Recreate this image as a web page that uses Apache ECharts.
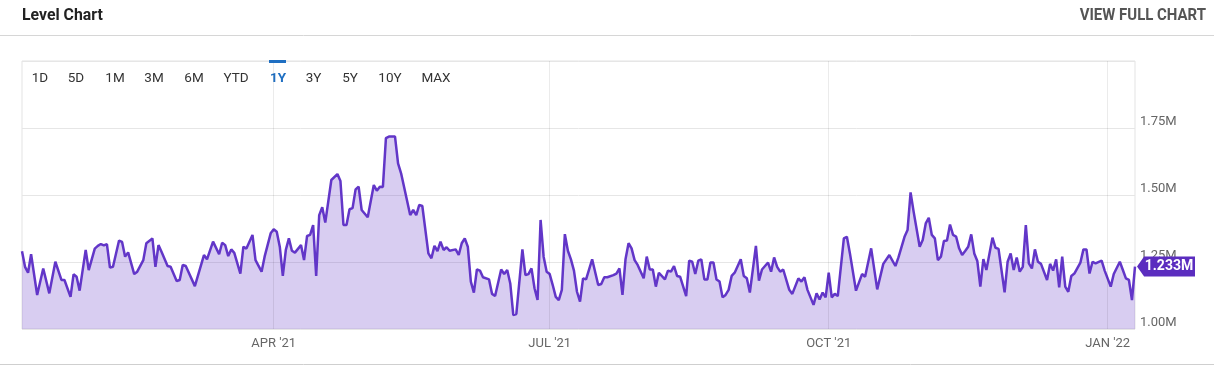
<!DOCTYPE html>
<html>
<head>
<meta charset="utf-8">
<script src="https://cdn.jsdelivr.net/npm/echarts@6/dist/echarts.min.js"></script>
<style>
html,body{margin:0;padding:0;background:#fff;}
#c{width:1214px;height:366px;}
</style>
</head>
<body>
<div id="c"></div>
<script>
// ---- data ----
const startDate = '2021-01-08';
const endDate = '2022-01-10';
// day offsets from startDate
const dayOffsets = [0,1,2,3,5,7,9,11,13,14,16,17,18,19,21,22,24,25,26,27,28,29,30,32,33,34,35,37,38,40,41,43,44,45,46,48,49,51,52,53,54,57,60,61,63,65,66,67,68,69,70,72,73,74,76,77,79,80,82,83,84,85,86,87,88,89,90,92,93,94,95,96,97,98,99,100,102,104,105,106,107,108,109,110,111,112,114,116,117,118,119,120,121,123,124,125,128,129,130,131,132,134,135,136,137,138,139,140,141,143,144,145,146,147,148,149,150,151,152,154,155,156,158,159,160,161,162,163,165,166,167,168,169,170,171,172,173,174,175,176,177,178,179,180,181,182,183,184,185,186,188,190,191,192,193,195,196,197,198,199,200,201,202,203,205,206,207,208,209,210,212,213,214,215,216,217,219,220,221,222,223,224,225,226,227,228,229,230,231,232,233,234,235,237,238,239,240,242,243,244,246,247,248,249,250,251,253,254,256,257,258,259,261,262,263,264,265,266,267,268,269,271,272,273,275,277,278,280,282,284,286,288,289,291,292,293,294,296,297,298,299,300,301,302,303,304,305,306,307,308,309,310,311,312,313,314,315,316,317,318,320,321,322,324,325,326,327,328,329,330,331,332,333,334,335,336,338,339,340,341,342,343,344,345,346,347,349,350,351,352,353,354,356,357,359,360,362,363,364,365,366,367];
// level values, millions
const values = [1.29,1.232,1.21,1.279,1.127,1.226,1.133,1.251,1.183,1.183,1.12,1.204,1.195,1.143,1.295,1.22,1.30,1.31,1.317,1.312,1.317,1.229,1.232,1.33,1.325,1.27,1.286,1.205,1.214,1.257,1.32,1.338,1.232,1.313,1.288,1.235,1.232,1.179,1.183,1.239,1.235,1.16,1.276,1.26,1.326,1.279,1.322,1.313,1.272,1.297,1.284,1.207,1.307,1.30,1.351,1.257,1.214,1.27,1.357,1.372,1.363,1.307,1.198,1.295,1.338,1.292,1.285,1.313,1.257,1.347,1.351,1.388,1.198,1.425,1.454,1.397,1.556,1.578,1.552,1.388,1.388,1.447,1.451,1.521,1.531,1.444,1.417,1.537,1.516,1.531,1.53,1.712,1.718,1.718,1.618,1.581,1.425,1.444,1.425,1.463,1.459,1.282,1.264,1.31,1.291,1.326,1.295,1.305,1.292,1.297,1.276,1.32,1.338,1.307,1.177,1.136,1.222,1.218,1.193,1.185,1.131,1.123,1.222,1.205,1.22,1.17,1.052,1.056,1.297,1.201,1.205,1.226,1.152,1.108,1.407,1.27,1.214,1.205,1.164,1.12,1.108,1.146,1.354,1.292,1.26,1.218,1.139,1.102,1.189,1.185,1.26,1.164,1.168,1.193,1.193,1.201,1.207,1.226,1.127,1.26,1.32,1.301,1.257,1.239,1.189,1.27,1.222,1.222,1.158,1.21,1.185,1.218,1.214,1.235,1.198,1.195,1.123,1.255,1.251,1.205,1.255,1.26,1.185,1.185,1.248,1.248,1.185,1.177,1.118,1.127,1.146,1.198,1.21,1.26,1.198,1.189,1.136,1.31,1.18,1.222,1.248,1.214,1.267,1.232,1.214,1.222,1.146,1.131,1.189,1.177,1.193,1.146,1.09,1.133,1.11,1.136,1.118,1.21,1.118,1.131,1.123,1.338,1.344,1.282,1.143,1.205,1.195,1.301,1.148,1.243,1.276,1.235,1.267,1.344,1.369,1.51,1.438,1.307,1.332,1.394,1.415,1.351,1.338,1.257,1.27,1.328,1.33,1.39,1.351,1.345,1.301,1.276,1.291,1.307,1.353,1.282,1.254,1.158,1.261,1.22,1.341,1.303,1.299,1.137,1.251,1.282,1.22,1.267,1.214,1.232,1.388,1.245,1.226,1.297,1.251,1.243,1.183,1.243,1.218,1.26,1.155,1.27,1.158,1.139,1.198,1.207,1.248,1.297,1.297,1.207,1.251,1.245,1.255,1.218,1.158,1.205,1.251,1.22,1.189,1.183,1.108,1.233];
const quarterDates = ['2021-04-01','2021-07-01','2021-10-01','2022-01-01'];
const quarterLabels = ["APR '21","JUL '21","OCT '21","JAN '22"];
const yTicks = [1.00,1.25,1.50,1.75];
const rangeButtons = ['1D','5D','1M','3M','6M','YTD','1Y','3Y','5Y','10Y','MAX'];
const activeButton = '1Y';

// ---- helpers / layout ----
const DAY = 86400000;
function ts(s){const p=s.split('-').map(Number);return Date.UTC(p[0],p[1]-1,p[2]);}
const t0 = ts(startDate);
const seriesData = dayOffsets.map((d,i)=>[t0 + d*DAY, values[i]]);
const last = seriesData[seriesData.length-1];

const buttonX = [40,76,115,154,194,236,278,313.5,350,390,436];
const LINE = '#6236c8';
const FONT = 'Roboto';

const graphics = [
  {type:'line', shape:{x1:0,y1:35.5,x2:1214,y2:35.5}, style:{stroke:'#d6d6d6',lineWidth:1}, silent:true},
  {type:'line', shape:{x1:0,y1:364.5,x2:1214,y2:364.5}, style:{stroke:'#cfcfcf',lineWidth:1}, silent:true},
  {type:'text', x:22, y:16, scaleX:0.93, style:{text:'Level Chart', x:0, y:0, fill:'#222', fontSize:17, fontWeight:'bold', fontFamily:FONT, align:'left', verticalAlign:'middle', textAlign:'left', textVerticalAlign:'middle'}},
  {type:'text', x:1206, y:16, scaleX:0.88, style:{text:'VIEW FULL CHART', x:0, y:0, fill:'#555', fontSize:17, fontWeight:'bold', fontFamily:FONT, align:'right', verticalAlign:'middle', textAlign:'right', textVerticalAlign:'middle'}},
  {type:'rect', z:100, shape:{x:269, y:60, width:17, height:3}, style:{fill:'#1f6fc2'}, silent:true}
];
rangeButtons.forEach((b,i)=>{
  const act = b===activeButton;
  graphics.push({type:'text', x:buttonX[i], y:79, style:{text:b, x:0, y:0, fill: act?'#1f6fc2':'#333', fontSize:13.5, fontWeight: act?'bold':'normal', fontFamily:FONT, align:'center', verticalAlign:'middle', textAlign:'center', textVerticalAlign:'middle'}});
});

const chart = echarts.init(document.getElementById('c'), null, {renderer:'canvas'});
chart.setOption({
  animation:false,
  grid:{left:22, right:79, top:61, bottom:37, show:true, borderColor:'#e3e3e3', borderWidth:1},
  xAxis:{type:'time', min:t0, max:ts(endDate), show:false},
  yAxis:{
    type:'value', position:'right', min:1, max:2, interval:0.25,
    axisLine:{show:false}, axisTick:{show:false},
    splitLine:{lineStyle:{color:'#e6e6e6', width:1}},
    axisLabel:{margin:5, color:'#666', fontSize:13, fontFamily:FONT, verticalAlign:'bottom',
      formatter:function(v){ return yTicks.some(t=>Math.abs(t-v)<1e-9) ? v.toFixed(2)+'M' : ''; }}
  },
  series:[{
    type:'line', data:seriesData, showSymbol:false, clip:false,
    lineStyle:{color:LINE, width:2.5},
    itemStyle:{color:LINE},
    areaStyle:{color:'rgba(98,54,200,0.25)', opacity:1},
    markLine:{
      silent:true, symbol:['none','none'],
      lineStyle:{color:'rgba(0,0,0,0.08)', type:'solid', width:1},
      label:{show:true, position:'start', distance:8, color:'#666', fontSize:13, fontFamily:FONT},
      data: quarterDates.map((d,i)=>({xAxis:ts(d), label:{formatter:quarterLabels[i]}}))
    },
    markPoint:{
      silent:true,
      symbol:'path://M0,10L7,0L57,0L57,20L7,20Z',
      symbolSize:[58,20], symbolKeepAspect:false, symbolOffset:[31,0],
      itemStyle:{color:'#5b2dbf'},
      label:{show:true, position:'inside', offset:[3,0], color:'#fff', fontWeight:'bold', fontSize:14, fontFamily:FONT,
        formatter:function(){ return last[1].toFixed(3)+'M'; }},
      data:[{coord:last, value:last[1]}]
    }
  }],
  graphic:graphics
});
</script>
</body>
</html>
